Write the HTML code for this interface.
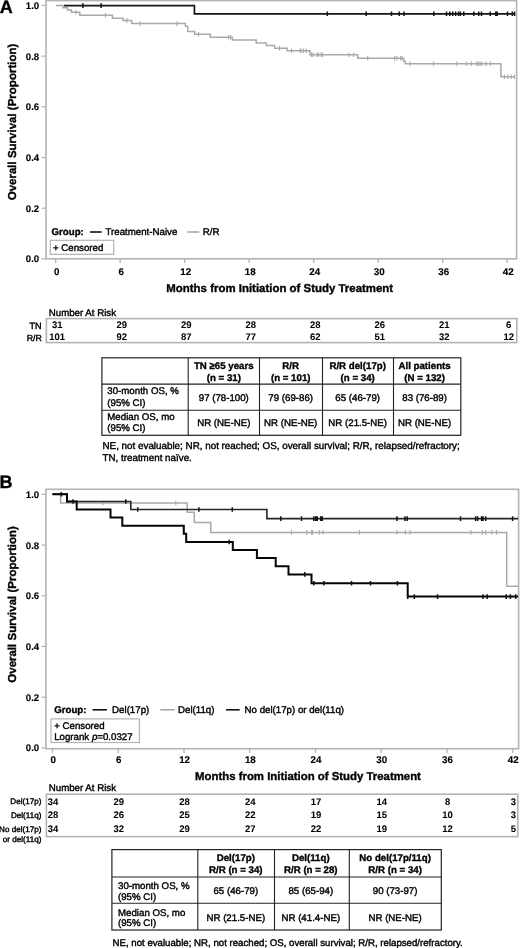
<!DOCTYPE html>
<html><head><meta charset="utf-8"><title>Overall survival</title>
<style>
html,body{margin:0;padding:0;background:#fff;}
body{width:520px;height:948px;overflow:hidden;}
svg{display:block;will-change:transform;font-family:"Liberation Sans", sans-serif;fill:#000;}
text{stroke:#000;stroke-width:0.4px;}
text[font-weight="bold"]{stroke-width:0.35px;}
text.n{stroke-width:0.05px;}
text.t{stroke-width:0.15px;}
</style></head>
<body>
<svg width="520" height="948" viewBox="0 0 520 948" font-family='"Liberation Sans", sans-serif'>
<rect x="46" y="0.6" width="470.6" height="258.2" fill="none" stroke="#b3b3b3" stroke-width="1.6"/>
<path d="M41.5,5.40H46" stroke="#b3b3b3" stroke-width="1.2"/>
<text transform="translate(39.2,8.8) skewX(0.05)" class="t" font-size="9.6" font-weight="bold" text-anchor="end" >1.0</text>
<path d="M41.5,56.10H46" stroke="#b3b3b3" stroke-width="1.2"/>
<text transform="translate(39.2,59.499999999999986) skewX(0.05)" class="t" font-size="9.6" font-weight="bold" text-anchor="end" >0.8</text>
<path d="M41.5,106.80H46" stroke="#b3b3b3" stroke-width="1.2"/>
<text transform="translate(39.2,110.20000000000002) skewX(0.05)" class="t" font-size="9.6" font-weight="bold" text-anchor="end" >0.6</text>
<path d="M41.5,157.50H46" stroke="#b3b3b3" stroke-width="1.2"/>
<text transform="translate(39.2,160.9) skewX(0.05)" class="t" font-size="9.6" font-weight="bold" text-anchor="end" >0.4</text>
<path d="M41.5,208.20H46" stroke="#b3b3b3" stroke-width="1.2"/>
<text transform="translate(39.2,211.60000000000002) skewX(0.05)" class="t" font-size="9.6" font-weight="bold" text-anchor="end" >0.2</text>
<path d="M41.5,258.90H46" stroke="#b3b3b3" stroke-width="1.2"/>
<text transform="translate(39.2,262.29999999999995) skewX(0.05)" class="t" font-size="9.6" font-weight="bold" text-anchor="end" >0.0</text>
<path d="M55.70,258.8V263" stroke="#b3b3b3" stroke-width="1.3"/>
<text transform="translate(56.80,275.2) skewX(0.05)" class="t" font-size="9.8" font-weight="bold" text-anchor="middle" >0</text>
<path d="M120.20,258.8V263" stroke="#b3b3b3" stroke-width="1.3"/>
<text transform="translate(121.30,275.2) skewX(0.05)" class="t" font-size="9.8" font-weight="bold" text-anchor="middle" >6</text>
<path d="M184.70,258.8V263" stroke="#b3b3b3" stroke-width="1.3"/>
<text transform="translate(185.80,275.2) skewX(0.05)" class="t" font-size="9.8" font-weight="bold" text-anchor="middle" >12</text>
<path d="M249.20,258.8V263" stroke="#b3b3b3" stroke-width="1.3"/>
<text transform="translate(250.30,275.2) skewX(0.05)" class="t" font-size="9.8" font-weight="bold" text-anchor="middle" >18</text>
<path d="M313.70,258.8V263" stroke="#b3b3b3" stroke-width="1.3"/>
<text transform="translate(314.80,275.2) skewX(0.05)" class="t" font-size="9.8" font-weight="bold" text-anchor="middle" >24</text>
<path d="M378.20,258.8V263" stroke="#b3b3b3" stroke-width="1.3"/>
<text transform="translate(379.30,275.2) skewX(0.05)" class="t" font-size="9.8" font-weight="bold" text-anchor="middle" >30</text>
<path d="M442.70,258.8V263" stroke="#b3b3b3" stroke-width="1.3"/>
<text transform="translate(443.80,275.2) skewX(0.05)" class="t" font-size="9.8" font-weight="bold" text-anchor="middle" >36</text>
<path d="M507.20,258.8V263" stroke="#b3b3b3" stroke-width="1.3"/>
<text transform="translate(508.30,275.2) skewX(0.05)" class="t" font-size="9.8" font-weight="bold" text-anchor="middle" >42</text>
<text transform="translate(166.3,291.8) skewX(0.05)" font-size="11.45" font-weight="bold" >Months from Initiation of Study Treatment</text>
<text transform="translate(16.2,122) rotate(-90) skewX(0.05)" font-size="11.5" font-weight="bold" text-anchor="middle">Overall Survival (Proportion)</text>
<text transform="translate(-0.2,12.7) skewX(0.05)" font-size="18" font-weight="bold" >A</text>
<path d="M56,5.6H63V7.8H67.5V10H71.4V12.2H79.8V15.2H112.5V18.2H123V20.4H131.7V23.6H185.4V26.2H187.7V31.4H194.6V34.3H210.3V37.3H232.3V40H256.2V43.1H266.2V45.6H274.6V48.3H287.2V50.8H310V54.7H357.7V58.3H403.8V61.4H405.4V63.7H500.9V76.7H515" stroke="#a9a9a9" stroke-width="1.5" fill="none"/>
<path d="M76,9.899999999999999V14.5" stroke="#a9a9a9" stroke-width="1.1" fill="none"/>
<path d="M105.5,12.899999999999999V17.5" stroke="#a9a9a9" stroke-width="1.1" fill="none"/>
<path d="M127,18.099999999999998V22.7" stroke="#a9a9a9" stroke-width="1.1" fill="none"/>
<path d="M140,21.3V25.900000000000002" stroke="#a9a9a9" stroke-width="1.1" fill="none"/>
<path d="M177,21.3V25.900000000000002" stroke="#a9a9a9" stroke-width="1.1" fill="none"/>
<path d="M198.5,31.999999999999996V36.599999999999994" stroke="#a9a9a9" stroke-width="1.1" fill="none"/>
<path d="M228.5,35.0V39.599999999999994" stroke="#a9a9a9" stroke-width="1.1" fill="none"/>
<path d="M230.5,35.0V39.599999999999994" stroke="#a9a9a9" stroke-width="1.1" fill="none"/>
<path d="M279.5,46.0V50.599999999999994" stroke="#a9a9a9" stroke-width="1.1" fill="none"/>
<path d="M291.5,48.5V53.099999999999994" stroke="#a9a9a9" stroke-width="1.1" fill="none"/>
<path d="M300,48.5V53.099999999999994" stroke="#a9a9a9" stroke-width="1.1" fill="none"/>
<path d="M301.2,48.5V53.099999999999994" stroke="#a9a9a9" stroke-width="1.1" fill="none"/>
<path d="M303.5,48.5V53.099999999999994" stroke="#a9a9a9" stroke-width="1.1" fill="none"/>
<path d="M306.2,48.5V53.099999999999994" stroke="#a9a9a9" stroke-width="1.1" fill="none"/>
<path d="M311.5,52.400000000000006V57.0" stroke="#a9a9a9" stroke-width="1.1" fill="none"/>
<path d="M313,52.400000000000006V57.0" stroke="#a9a9a9" stroke-width="1.1" fill="none"/>
<path d="M317,52.400000000000006V57.0" stroke="#a9a9a9" stroke-width="1.1" fill="none"/>
<path d="M318.5,52.400000000000006V57.0" stroke="#a9a9a9" stroke-width="1.1" fill="none"/>
<path d="M321,52.400000000000006V57.0" stroke="#a9a9a9" stroke-width="1.1" fill="none"/>
<path d="M322.5,52.400000000000006V57.0" stroke="#a9a9a9" stroke-width="1.1" fill="none"/>
<path d="M348.8,52.400000000000006V57.0" stroke="#a9a9a9" stroke-width="1.1" fill="none"/>
<path d="M353.7,52.400000000000006V57.0" stroke="#a9a9a9" stroke-width="1.1" fill="none"/>
<path d="M367.7,56.0V60.599999999999994" stroke="#a9a9a9" stroke-width="1.1" fill="none"/>
<path d="M394.6,56.0V60.599999999999994" stroke="#a9a9a9" stroke-width="1.1" fill="none"/>
<path d="M396.9,56.0V60.599999999999994" stroke="#a9a9a9" stroke-width="1.1" fill="none"/>
<path d="M400.5,56.0V60.599999999999994" stroke="#a9a9a9" stroke-width="1.1" fill="none"/>
<path d="M402,56.0V60.599999999999994" stroke="#a9a9a9" stroke-width="1.1" fill="none"/>
<path d="M410,61.400000000000006V66.0" stroke="#a9a9a9" stroke-width="1.1" fill="none"/>
<path d="M433.6,61.400000000000006V66.0" stroke="#a9a9a9" stroke-width="1.1" fill="none"/>
<path d="M456.8,61.400000000000006V66.0" stroke="#a9a9a9" stroke-width="1.1" fill="none"/>
<path d="M466.3,61.400000000000006V66.0" stroke="#a9a9a9" stroke-width="1.1" fill="none"/>
<path d="M471.5,61.400000000000006V66.0" stroke="#a9a9a9" stroke-width="1.1" fill="none"/>
<path d="M476.5,61.400000000000006V66.0" stroke="#a9a9a9" stroke-width="1.1" fill="none"/>
<path d="M478.2,61.400000000000006V66.0" stroke="#a9a9a9" stroke-width="1.1" fill="none"/>
<path d="M480,61.400000000000006V66.0" stroke="#a9a9a9" stroke-width="1.1" fill="none"/>
<path d="M481.8,61.400000000000006V66.0" stroke="#a9a9a9" stroke-width="1.1" fill="none"/>
<path d="M486.2,61.400000000000006V66.0" stroke="#a9a9a9" stroke-width="1.1" fill="none"/>
<path d="M490.5,61.400000000000006V66.0" stroke="#a9a9a9" stroke-width="1.1" fill="none"/>
<path d="M504.4,74.4V79.0" stroke="#a9a9a9" stroke-width="1.1" fill="none"/>
<path d="M507.9,74.4V79.0" stroke="#a9a9a9" stroke-width="1.1" fill="none"/>
<path d="M511.3,74.4V79.0" stroke="#a9a9a9" stroke-width="1.1" fill="none"/>
<path d="M514.5,74.4V79.0" stroke="#a9a9a9" stroke-width="1.1" fill="none"/>
<path d="M64,5.6H194.4V13.8H515" stroke="#151515" stroke-width="1.7" fill="none"/>
<path d="M82.9,3.3V7.8999999999999995 M101.1,3.3V7.8999999999999995" stroke="#111" stroke-width="1.5" fill="none"/>
<path d="M327.3,11.5V16.1 M366.2,11.5V16.1 M391.5,11.5V16.1 M399.2,11.5V16.1 M404,11.5V16.1 M433.8,11.5V16.1 M446.5,11.5V16.1 M449.8,11.5V16.1 M452.7,11.5V16.1 M455.6,11.5V16.1 M458.5,11.5V16.1 M460.4,11.5V16.1 M463.8,11.5V16.1 M473.8,11.5V16.1 M478.7,11.5V16.1 M481.5,11.5V16.1 M490.2,11.5V16.1 M495.8,11.5V16.1 M497.2,11.5V16.1 M507.5,11.5V16.1 M512.3,11.5V16.1 M514.6,11.5V16.1" stroke="#111" stroke-width="1.5" fill="none"/>
<text transform="translate(51.5,235.2) skewX(0.05)" font-size="9.7" font-weight="bold" >Group:</text>
<path d="M90,232H101.6" stroke="#111" stroke-width="1.6"/>
<text transform="translate(105.5,235.2) skewX(0.05)" font-size="9.7" >Treatment-Naive</text>
<path d="M187.2,232H199.3" stroke="#a9a9a9" stroke-width="1.6"/>
<text transform="translate(202.7,235.2) skewX(0.05)" font-size="9.7" >R/R</text>
<rect x="50.3" y="240.3" width="63.4" height="14" fill="none" stroke="#b3b3b3" stroke-width="1.2"/>
<text transform="translate(53,250.9) skewX(0.05)" font-size="9.7" >+ Censored</text>
<text transform="translate(48.75,315.5) skewX(0.05)" font-size="9.7" >Number At Risk</text>
<rect x="46.4" y="318.6" width="470.4" height="24" fill="none" stroke="#b3b3b3" stroke-width="1.6"/>
<text transform="translate(41.6,328.9) skewX(0.05)" font-size="9.1" text-anchor="end" >TN</text>
<text transform="translate(41.9,340.8) skewX(0.05)" font-size="8.8" text-anchor="end" >R/R</text>
<text transform="translate(57.20,328.1) skewX(0.05)" class="n" font-size="9.5" font-weight="bold" text-anchor="middle" >31</text>
<text transform="translate(57.20,340.3) skewX(0.05)" class="n" font-size="9.5" font-weight="bold" text-anchor="middle" >101</text>
<text transform="translate(121.70,328.1) skewX(0.05)" class="n" font-size="9.5" font-weight="bold" text-anchor="middle" >29</text>
<text transform="translate(121.70,340.3) skewX(0.05)" class="n" font-size="9.5" font-weight="bold" text-anchor="middle" >92</text>
<text transform="translate(186.20,328.1) skewX(0.05)" class="n" font-size="9.5" font-weight="bold" text-anchor="middle" >29</text>
<text transform="translate(186.20,340.3) skewX(0.05)" class="n" font-size="9.5" font-weight="bold" text-anchor="middle" >87</text>
<text transform="translate(250.70,328.1) skewX(0.05)" class="n" font-size="9.5" font-weight="bold" text-anchor="middle" >28</text>
<text transform="translate(250.70,340.3) skewX(0.05)" class="n" font-size="9.5" font-weight="bold" text-anchor="middle" >77</text>
<text transform="translate(315.20,328.1) skewX(0.05)" class="n" font-size="9.5" font-weight="bold" text-anchor="middle" >28</text>
<text transform="translate(315.20,340.3) skewX(0.05)" class="n" font-size="9.5" font-weight="bold" text-anchor="middle" >62</text>
<text transform="translate(379.70,328.1) skewX(0.05)" class="n" font-size="9.5" font-weight="bold" text-anchor="middle" >26</text>
<text transform="translate(379.70,340.3) skewX(0.05)" class="n" font-size="9.5" font-weight="bold" text-anchor="middle" >51</text>
<text transform="translate(444.20,328.1) skewX(0.05)" class="n" font-size="9.5" font-weight="bold" text-anchor="middle" >21</text>
<text transform="translate(444.20,340.3) skewX(0.05)" class="n" font-size="9.5" font-weight="bold" text-anchor="middle" >32</text>
<text transform="translate(508.70,328.1) skewX(0.05)" class="n" font-size="9.5" font-weight="bold" text-anchor="middle" >6</text>
<text transform="translate(508.70,340.3) skewX(0.05)" class="n" font-size="9.5" font-weight="bold" text-anchor="middle" >12</text>
<rect x="101.9" y="357.8" width="358.9" height="77.5" fill="none" stroke="#222" stroke-width="1.2"/>
<path d="M188.2,357.8V435.3" stroke="#222" stroke-width="1.1"/>
<path d="M259.5,357.8V435.3" stroke="#222" stroke-width="1.1"/>
<path d="M322.5,357.8V435.3" stroke="#222" stroke-width="1.1"/>
<path d="M393.5,357.8V435.3" stroke="#222" stroke-width="1.1"/>
<path d="M101.9,384.1H460.8" stroke="#222" stroke-width="1.1"/>
<path d="M101.9,410.2H460.8" stroke="#222" stroke-width="1.1"/>
<text transform="translate(223.80,368.8) skewX(0.05)" font-size="9.7" font-weight="bold" text-anchor="middle" >TN ≥65 years</text>
<text transform="translate(223.80,381.2) skewX(0.05)" font-size="9.7" font-weight="bold" text-anchor="middle" >(n = 31)</text>
<text transform="translate(223.80,401.2) skewX(0.05)" font-size="9.7" text-anchor="middle" >97 (78-100)</text>
<text transform="translate(223.80,426.3) skewX(0.05)" font-size="9.7" text-anchor="middle" >NR (NE-NE)</text>
<text transform="translate(290.70,368.8) skewX(0.05)" font-size="9.7" font-weight="bold" text-anchor="middle" >R/R</text>
<text transform="translate(290.70,381.2) skewX(0.05)" font-size="9.7" font-weight="bold" text-anchor="middle" >(n = 101)</text>
<text transform="translate(290.70,401.2) skewX(0.05)" font-size="9.7" text-anchor="middle" >79 (69-86)</text>
<text transform="translate(290.70,426.3) skewX(0.05)" font-size="9.7" text-anchor="middle" >NR (NE-NE)</text>
<text transform="translate(357.70,368.8) skewX(0.05)" font-size="9.7" font-weight="bold" text-anchor="middle" >R/R del(17p)</text>
<text transform="translate(357.70,381.2) skewX(0.05)" font-size="9.7" font-weight="bold" text-anchor="middle" >(n = 34)</text>
<text transform="translate(357.70,401.2) skewX(0.05)" font-size="9.7" text-anchor="middle" >65 (46-79)</text>
<text transform="translate(357.70,426.3) skewX(0.05)" font-size="9.7" text-anchor="middle" >NR (21.5-NE)</text>
<text transform="translate(424.60,368.8) skewX(0.05)" font-size="9.7" font-weight="bold" text-anchor="middle" >All patients</text>
<text transform="translate(424.60,381.2) skewX(0.05)" font-size="9.7" font-weight="bold" text-anchor="middle" >(N = 132)</text>
<text transform="translate(424.60,401.2) skewX(0.05)" font-size="9.7" text-anchor="middle" >83 (76-89)</text>
<text transform="translate(424.60,426.3) skewX(0.05)" font-size="9.7" text-anchor="middle" >NR (NE-NE)</text>
<text transform="translate(107.3,394.4) skewX(0.05)" font-size="9.7" >30-month OS, %</text>
<text transform="translate(107.3,405.8) skewX(0.05)" font-size="9.7" >(95% CI)</text>
<text transform="translate(107.3,420) skewX(0.05)" font-size="9.7" >Median OS, mo</text>
<text transform="translate(107.3,431.4) skewX(0.05)" font-size="9.7" >(95% CI)</text>
<text transform="translate(102.5,449.3) skewX(0.05)" font-size="9.83" >NE, not evaluable; NR, not reached; OS, overall survival; R/R, relapsed/refractory;</text>
<text transform="translate(102.5,461.3) skewX(0.05)" font-size="9.8" >TN, treatment naïve.</text>
<rect x="45.9" y="489.3" width="472.70000000000005" height="259.40000000000003" fill="none" stroke="#b3b3b3" stroke-width="1.6"/>
<path d="M41.5,494.40H45.9" stroke="#b3b3b3" stroke-width="1.2"/>
<text transform="translate(39.2,497.79999999999995) skewX(0.05)" class="t" font-size="9.6" font-weight="bold" text-anchor="end" >1.0</text>
<path d="M41.5,545.10H45.9" stroke="#b3b3b3" stroke-width="1.2"/>
<text transform="translate(39.2,548.4999999999999) skewX(0.05)" class="t" font-size="9.6" font-weight="bold" text-anchor="end" >0.8</text>
<path d="M41.5,595.80H45.9" stroke="#b3b3b3" stroke-width="1.2"/>
<text transform="translate(39.2,599.1999999999999) skewX(0.05)" class="t" font-size="9.6" font-weight="bold" text-anchor="end" >0.6</text>
<path d="M41.5,646.50H45.9" stroke="#b3b3b3" stroke-width="1.2"/>
<text transform="translate(39.2,649.9) skewX(0.05)" class="t" font-size="9.6" font-weight="bold" text-anchor="end" >0.4</text>
<path d="M41.5,697.20H45.9" stroke="#b3b3b3" stroke-width="1.2"/>
<text transform="translate(39.2,700.6) skewX(0.05)" class="t" font-size="9.6" font-weight="bold" text-anchor="end" >0.2</text>
<path d="M41.5,747.90H45.9" stroke="#b3b3b3" stroke-width="1.2"/>
<text transform="translate(39.2,751.3) skewX(0.05)" class="t" font-size="9.6" font-weight="bold" text-anchor="end" >0.0</text>
<path d="M52.50,748.7V752.9" stroke="#b3b3b3" stroke-width="1.3"/>
<text transform="translate(53.10,763.4) skewX(0.05)" class="t" font-size="9.8" font-weight="bold" text-anchor="middle" >0</text>
<path d="M118.24,748.7V752.9" stroke="#b3b3b3" stroke-width="1.3"/>
<text transform="translate(118.84,763.4) skewX(0.05)" class="t" font-size="9.8" font-weight="bold" text-anchor="middle" >6</text>
<path d="M183.98,748.7V752.9" stroke="#b3b3b3" stroke-width="1.3"/>
<text transform="translate(184.58,763.4) skewX(0.05)" class="t" font-size="9.8" font-weight="bold" text-anchor="middle" >12</text>
<path d="M249.73,748.7V752.9" stroke="#b3b3b3" stroke-width="1.3"/>
<text transform="translate(250.33,763.4) skewX(0.05)" class="t" font-size="9.8" font-weight="bold" text-anchor="middle" >18</text>
<path d="M315.47,748.7V752.9" stroke="#b3b3b3" stroke-width="1.3"/>
<text transform="translate(316.07,763.4) skewX(0.05)" class="t" font-size="9.8" font-weight="bold" text-anchor="middle" >24</text>
<path d="M381.21,748.7V752.9" stroke="#b3b3b3" stroke-width="1.3"/>
<text transform="translate(381.81,763.4) skewX(0.05)" class="t" font-size="9.8" font-weight="bold" text-anchor="middle" >30</text>
<path d="M446.95,748.7V752.9" stroke="#b3b3b3" stroke-width="1.3"/>
<text transform="translate(447.55,763.4) skewX(0.05)" class="t" font-size="9.8" font-weight="bold" text-anchor="middle" >36</text>
<path d="M512.69,748.7V752.9" stroke="#b3b3b3" stroke-width="1.3"/>
<text transform="translate(513.29,763.4) skewX(0.05)" class="t" font-size="9.8" font-weight="bold" text-anchor="middle" >42</text>
<text transform="translate(195,779.5) skewX(0.05)" font-size="11.4" font-weight="bold" >Months from Initiation of Study Treatment</text>
<text transform="translate(16.2,604.4) rotate(-90) skewX(0.05)" font-size="11.5" font-weight="bold" text-anchor="middle">Overall Survival (Proportion)</text>
<text transform="translate(-0.4,487.7) skewX(0.05)" font-size="18" font-weight="bold" >B</text>
<path d="M52.5,494.2H60.6V503H187.2V512.2H194.3V522.6H210.8V532.4H506.7V586.3H518" stroke="#a9a9a9" stroke-width="1.5" fill="none"/>
<path d="M103,500.7V505.3" stroke="#a9a9a9" stroke-width="1.1" fill="none"/>
<path d="M175.8,500.7V505.3" stroke="#a9a9a9" stroke-width="1.1" fill="none"/>
<path d="M291.5,530.1V534.6999999999999" stroke="#a9a9a9" stroke-width="1.1" fill="none"/>
<path d="M306.9,530.1V534.6999999999999" stroke="#a9a9a9" stroke-width="1.1" fill="none"/>
<path d="M311.5,530.1V534.6999999999999" stroke="#a9a9a9" stroke-width="1.1" fill="none"/>
<path d="M312.5,530.1V534.6999999999999" stroke="#a9a9a9" stroke-width="1.1" fill="none"/>
<path d="M319.2,530.1V534.6999999999999" stroke="#a9a9a9" stroke-width="1.1" fill="none"/>
<path d="M323,530.1V534.6999999999999" stroke="#a9a9a9" stroke-width="1.1" fill="none"/>
<path d="M359.5,530.1V534.6999999999999" stroke="#a9a9a9" stroke-width="1.1" fill="none"/>
<path d="M396.9,530.1V534.6999999999999" stroke="#a9a9a9" stroke-width="1.1" fill="none"/>
<path d="M405.4,530.1V534.6999999999999" stroke="#a9a9a9" stroke-width="1.1" fill="none"/>
<path d="M410,530.1V534.6999999999999" stroke="#a9a9a9" stroke-width="1.1" fill="none"/>
<path d="M470.9,530.1V534.6999999999999" stroke="#a9a9a9" stroke-width="1.1" fill="none"/>
<path d="M482.3,530.1V534.6999999999999" stroke="#a9a9a9" stroke-width="1.1" fill="none"/>
<path d="M485.7,530.1V534.6999999999999" stroke="#a9a9a9" stroke-width="1.1" fill="none"/>
<path d="M491.7,530.1V534.6999999999999" stroke="#a9a9a9" stroke-width="1.1" fill="none"/>
<path d="M496.4,530.1V534.6999999999999" stroke="#a9a9a9" stroke-width="1.1" fill="none"/>
<path d="M52.5,494.2H67.2V501.5H130.8V509.5H266.9V518.6H518" stroke="#262626" stroke-width="1.6" fill="none"/>
<path d="M52.5,494.2H67V501.5H76.7V509.5H110.5V517.6H122.3V525.8H183.8V533.8H186.2V542H232.8V550H256.9V558H275.7V566.2H288.5V574.4H311.5V583.3H407.7V596.6H518" stroke="#050505" stroke-width="2" fill="none"/>
<path d="M61.4,491.9V496.5" stroke="#111" stroke-width="1.5" fill="none"/>
<path d="M73,499.2V503.8 M125.8,499.2V503.8" stroke="#111" stroke-width="1.5" fill="none"/>
<path d="M137.7,507.2V511.8 M198.9,507.2V511.8 M232.3,507.2V511.8" stroke="#111" stroke-width="1.5" fill="none"/>
<path d="M280.8,516.3000000000001V520.9 M301.5,516.3000000000001V520.9 M313.8,516.3000000000001V520.9 M315.7,516.3000000000001V520.9 M317.2,516.3000000000001V520.9 M320.8,516.3000000000001V520.9 M322.3,516.3000000000001V520.9 M396.9,516.3000000000001V520.9 M405,516.3000000000001V520.9 M407.2,516.3000000000001V520.9 M460.5,516.3000000000001V520.9 M475.6,516.3000000000001V520.9 M477.6,516.3000000000001V520.9 M481.6,516.3000000000001V520.9 M483,516.3000000000001V520.9 M485.7,516.3000000000001V520.9 M512.6,516.3000000000001V520.9" stroke="#111" stroke-width="1.5" fill="none"/>
<path d="M229.2,539.7V544.3" stroke="#111" stroke-width="1.5" fill="none"/>
<path d="M304.8,572.1V576.6999999999999" stroke="#111" stroke-width="1.5" fill="none"/>
<path d="M313.8,581.0V585.5999999999999 M323.8,581.0V585.5999999999999 M351.5,581.0V585.5999999999999 M370.5,581.0V585.5999999999999 M397.4,581.0V585.5999999999999" stroke="#111" stroke-width="1.5" fill="none"/>
<path d="M407.7,594.3000000000001V598.9 M414.3,594.3000000000001V598.9 M437.5,594.3000000000001V598.9 M483,594.3000000000001V598.9 M487.2,594.3000000000001V598.9 M506.2,594.3000000000001V598.9 M510.4,594.3000000000001V598.9 M515.7,594.3000000000001V598.9" stroke="#111" stroke-width="1.5" fill="none"/>
<text transform="translate(54.2,713) skewX(0.05)" font-size="9.7" font-weight="bold" >Group:</text>
<path d="M92.5,709.8H107" stroke="#111" stroke-width="1.6"/>
<text transform="translate(112.1,713) skewX(0.05)" font-size="9.7" >Del(17p)</text>
<path d="M160.3,709.8H174.7" stroke="#a9a9a9" stroke-width="1.6"/>
<text transform="translate(178,713) skewX(0.05)" font-size="9.7" >Del(11q)</text>
<path d="M226.1,709.8H239.7" stroke="#111" stroke-width="1.6"/>
<text transform="translate(244.6,713) skewX(0.05)" font-size="9.7" >No del(17p) or del(11q)</text>
<rect x="51" y="718.9" width="88.4" height="23.6" fill="none" stroke="#b3b3b3" stroke-width="1.2"/>
<text transform="translate(54.2,728.9) skewX(0.05)" font-size="9.7" >+ Censored</text>
<text transform="translate(54.2,739.5) skewX(0.05)" font-size="9.7">Logrank <tspan font-style="italic">p</tspan>=0.0327</text>
<text transform="translate(48.75,790.5) skewX(0.05)" font-size="9.7" >Number At Risk</text>
<rect x="46.4" y="794.2" width="471.4" height="42.4" fill="none" stroke="#b3b3b3" stroke-width="1.6"/>
<text transform="translate(41.4,803.7) skewX(0.05)" font-size="8.1" text-anchor="end" >Del(17p)</text>
<text transform="translate(41.4,817.7) skewX(0.05)" font-size="8.1" text-anchor="end" >Del(11q)</text>
<text transform="translate(41.4,832.1) skewX(0.05)" font-size="8.1" text-anchor="end" >No del(17p)</text>
<text transform="translate(41.4,841.7) skewX(0.05)" font-size="8.1" text-anchor="end" >or del(11q)</text>
<text transform="translate(53.10,805) skewX(0.05)" class="n" font-size="9.5" font-weight="bold" text-anchor="middle" >34</text>
<text transform="translate(118.84,805) skewX(0.05)" class="n" font-size="9.5" font-weight="bold" text-anchor="middle" >29</text>
<text transform="translate(184.58,805) skewX(0.05)" class="n" font-size="9.5" font-weight="bold" text-anchor="middle" >28</text>
<text transform="translate(250.33,805) skewX(0.05)" class="n" font-size="9.5" font-weight="bold" text-anchor="middle" >24</text>
<text transform="translate(316.07,805) skewX(0.05)" class="n" font-size="9.5" font-weight="bold" text-anchor="middle" >17</text>
<text transform="translate(381.81,805) skewX(0.05)" class="n" font-size="9.5" font-weight="bold" text-anchor="middle" >14</text>
<text transform="translate(447.55,805) skewX(0.05)" class="n" font-size="9.5" font-weight="bold" text-anchor="middle" >8</text>
<text transform="translate(513.29,805) skewX(0.05)" class="n" font-size="9.5" font-weight="bold" text-anchor="middle" >3</text>
<text transform="translate(53.10,818.2) skewX(0.05)" class="n" font-size="9.5" font-weight="bold" text-anchor="middle" >28</text>
<text transform="translate(118.84,818.2) skewX(0.05)" class="n" font-size="9.5" font-weight="bold" text-anchor="middle" >26</text>
<text transform="translate(184.58,818.2) skewX(0.05)" class="n" font-size="9.5" font-weight="bold" text-anchor="middle" >25</text>
<text transform="translate(250.33,818.2) skewX(0.05)" class="n" font-size="9.5" font-weight="bold" text-anchor="middle" >22</text>
<text transform="translate(316.07,818.2) skewX(0.05)" class="n" font-size="9.5" font-weight="bold" text-anchor="middle" >19</text>
<text transform="translate(381.81,818.2) skewX(0.05)" class="n" font-size="9.5" font-weight="bold" text-anchor="middle" >15</text>
<text transform="translate(447.55,818.2) skewX(0.05)" class="n" font-size="9.5" font-weight="bold" text-anchor="middle" >10</text>
<text transform="translate(513.29,818.2) skewX(0.05)" class="n" font-size="9.5" font-weight="bold" text-anchor="middle" >3</text>
<text transform="translate(53.10,831.5) skewX(0.05)" class="n" font-size="9.5" font-weight="bold" text-anchor="middle" >34</text>
<text transform="translate(118.84,831.5) skewX(0.05)" class="n" font-size="9.5" font-weight="bold" text-anchor="middle" >32</text>
<text transform="translate(184.58,831.5) skewX(0.05)" class="n" font-size="9.5" font-weight="bold" text-anchor="middle" >29</text>
<text transform="translate(250.33,831.5) skewX(0.05)" class="n" font-size="9.5" font-weight="bold" text-anchor="middle" >27</text>
<text transform="translate(316.07,831.5) skewX(0.05)" class="n" font-size="9.5" font-weight="bold" text-anchor="middle" >22</text>
<text transform="translate(381.81,831.5) skewX(0.05)" class="n" font-size="9.5" font-weight="bold" text-anchor="middle" >19</text>
<text transform="translate(447.55,831.5) skewX(0.05)" class="n" font-size="9.5" font-weight="bold" text-anchor="middle" >12</text>
<text transform="translate(513.29,831.5) skewX(0.05)" class="n" font-size="9.5" font-weight="bold" text-anchor="middle" >5</text>
<rect x="111.9" y="849.6" width="329.4" height="80.39999999999998" fill="none" stroke="#222" stroke-width="1.2"/>
<path d="M197.8,849.6V930" stroke="#222" stroke-width="1.1"/>
<path d="M274.5,849.6V930" stroke="#222" stroke-width="1.1"/>
<path d="M349.3,849.6V930" stroke="#222" stroke-width="1.1"/>
<path d="M111.9,877H441.3" stroke="#222" stroke-width="1.1"/>
<path d="M111.9,903.3H441.3" stroke="#222" stroke-width="1.1"/>
<text transform="translate(235.80,861.3) skewX(0.05)" font-size="9.7" font-weight="bold" text-anchor="middle" >Del(17p)</text>
<text transform="translate(235.80,873.3) skewX(0.05)" font-size="9.7" font-weight="bold" text-anchor="middle" >R/R (n = 34)</text>
<text transform="translate(235.80,893.8) skewX(0.05)" font-size="9.7" text-anchor="middle" >65 (46-79)</text>
<text transform="translate(235.80,920.5) skewX(0.05)" font-size="9.7" text-anchor="middle" >NR (21.5-NE)</text>
<text transform="translate(310.80,861.3) skewX(0.05)" font-size="9.7" font-weight="bold" text-anchor="middle" >Del(11q)</text>
<text transform="translate(310.80,873.3) skewX(0.05)" font-size="9.7" font-weight="bold" text-anchor="middle" >R/R (n = 28)</text>
<text transform="translate(310.80,893.8) skewX(0.05)" font-size="9.7" text-anchor="middle" >85 (65-94)</text>
<text transform="translate(310.80,920.5) skewX(0.05)" font-size="9.7" text-anchor="middle" >NR (41.4-NE)</text>
<text transform="translate(395.10,861.3) skewX(0.05)" font-size="9.7" font-weight="bold" text-anchor="middle" >No del(17p/11q)</text>
<text transform="translate(395.10,873.3) skewX(0.05)" font-size="9.7" font-weight="bold" text-anchor="middle" >R/R (n = 34)</text>
<text transform="translate(395.10,893.8) skewX(0.05)" font-size="9.7" text-anchor="middle" >90 (73-97)</text>
<text transform="translate(395.10,920.5) skewX(0.05)" font-size="9.7" text-anchor="middle" >NR (NE-NE)</text>
<text transform="translate(118,888.8) skewX(0.05)" font-size="9.7" >30-month OS, %</text>
<text transform="translate(118,900) skewX(0.05)" font-size="9.7" >(95% CI)</text>
<text transform="translate(118,915.5) skewX(0.05)" font-size="9.7" >Median OS, mo</text>
<text transform="translate(118,926.3) skewX(0.05)" font-size="9.7" >(95% CI)</text>
<text transform="translate(112.5,945.7) skewX(0.05)" font-size="9.66" >NE, not evaluable; NR, not reached; OS, overall survival; R/R, relapsed/refractory.</text>
</svg>
</body></html>
